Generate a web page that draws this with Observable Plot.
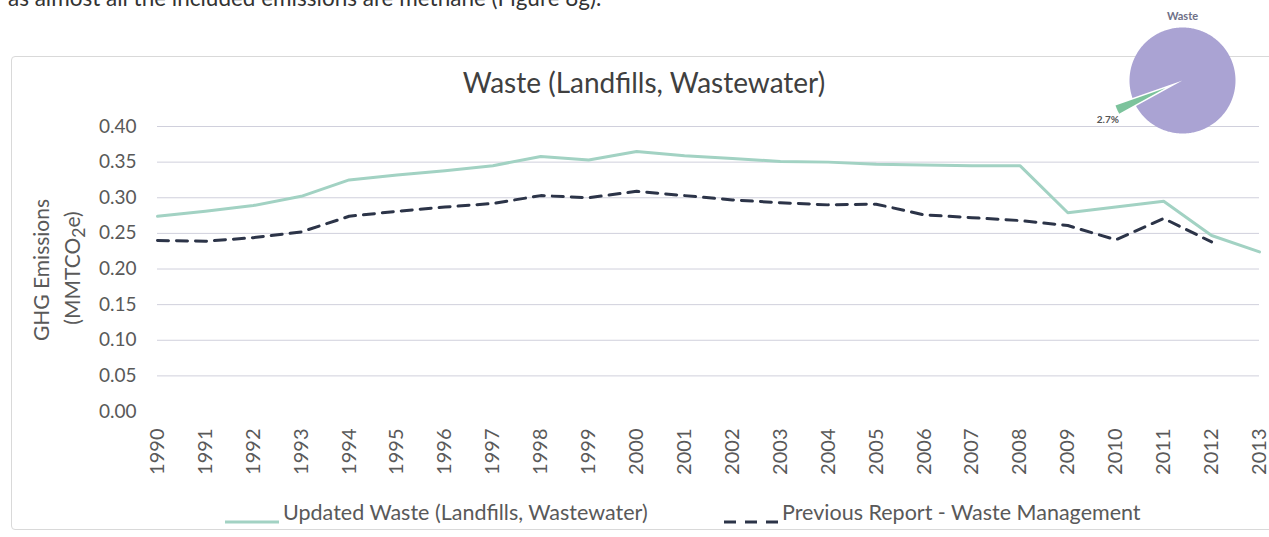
<!DOCTYPE html>
<html>
<head>
<meta charset="utf-8">
<script src="https://cdn.jsdelivr.net/npm/d3@7"></script>
<script src="https://cdn.jsdelivr.net/npm/@observablehq/plot@0.6"></script>
<style>
html,body{margin:0;padding:0;background:#fff;}
#wrap{position:relative;width:1269px;height:537px;overflow:hidden;background:#fff;font-family:Lato,sans-serif;}
.abs{position:absolute;white-space:nowrap;line-height:1;}
svg.plot-svg{position:absolute;}
</style>
</head>
<body>
<div id="wrap"></div>
<script>
// ---- data ----
const years = [1990,1991,1992,1993,1994,1995,1996,1997,1998,1999,2000,2001,2002,2003,2004,2005,2006,2007,2008,2009,2010,2011,2012,2013];
const updatedWaste = [0.274,0.281,0.289,0.302,0.325,0.332,0.338,0.345,0.358,0.353,0.365,0.359,0.355,0.351,0.350,0.347,0.346,0.345,0.345,0.279,0.287,0.295,0.247,0.224];
const previousReport = [0.240,0.239,0.244,0.252,0.274,0.281,0.287,0.292,0.303,0.300,0.309,0.303,0.297,0.293,0.290,0.291,0.276,0.272,0.268,0.261,0.241,0.271,0.238,null];
const yTicks = [0.00,0.05,0.10,0.15,0.20,0.25,0.30,0.35,0.40];
const seriesNames = ["Updated Waste (Landfills, Wastewater)", "Previous Report - Waste Management"];
const titleText = "Waste (Landfills, Wastewater)";
const yTitle1 = "GHG Emissions";
const yTitle2 = "(MMTCO<sub>2</sub>e)";
const introText = "as almost all the included emissions are methane (Figure 8g).";
const pieTitle = "Waste";
const pieLabels = ["Other", "Waste"];
const pieShares = [97.3, 2.7];

// ---- colors ----
const cUpdated = "#a2d2c3";
const cPrevious = "#2c3448";
const cPieMain = "#aaa3d3";
const cPieWaste = "#7cc39c";

const wrap = document.getElementById("wrap");
function addDiv(html, css) {
  const d = document.createElement("div");
  d.className = "abs";
  d.innerHTML = html;
  Object.assign(d.style, css);
  wrap.appendChild(d);
  return d;
}

// intro text (cut at top of the page, as in the source)
addDiv(introText, {left: "8px", top: "-13px", fontSize: "22.5px", color: "#333"});

// chart frame
addDiv("", {left: "11px", top: "56px", width: "1300px", height: "474px", border: "1px solid #d9d9d9", borderRadius: "4px", boxSizing: "border-box"});

// ---- main plot ----
const rowsU = years.map((y, i) => ({year: y, value: updatedWaste[i]})).filter(d => d.value != null);
const rowsP = years.map((y, i) => ({year: y, value: previousReport[i]})).filter(d => d.value != null);

const chart = Plot.plot({
  width: 1269,
  height: 537,
  marginLeft: 157,
  marginRight: 10,
  marginTop: 126,
  marginBottom: 126,
  style: {background: "transparent", fontFamily: "Lato, sans-serif", overflow: "visible"},
  x: {domain: [1990, 2013]},
  y: {domain: [0, 0.40]},
  marks: [
    Plot.ruleY(yTicks.filter(d => d > 0), {stroke: "#d0d0dc", strokeWidth: 1}),
    Plot.axisY(yTicks, {tickSize: 0, tickPadding: 21, tickFormat: d => d.toFixed(2), fontSize: 19, color: "#595959", label: null}),
    Plot.axisX(years, {tickSize: 0, tickRotate: -90, tickPadding: 17, tickFormat: d => String(d), fontSize: 20, color: "#595959", label: null}),
    Plot.line(rowsU, {x: "year", y: "value", stroke: cUpdated, strokeWidth: 3}),
    Plot.line(rowsP, {x: "year", y: "value", stroke: cPrevious, strokeWidth: 3, strokeDasharray: "11,8"})
  ]
});
chart.classList.add("plot-svg");
chart.style.left = "0px";
chart.style.top = "0px";
wrap.appendChild(chart);

// title
addDiv(titleText, {left: "644px", top: "68px", transform: "translateX(-50%)", fontSize: "28px", color: "#404040"});

// y axis title
addDiv(yTitle1, {left: "40px", top: "270px", transform: "translate(-50%,-50%) rotate(-90deg)", fontSize: "21px", color: "#595959"});
addDiv(yTitle2, {left: "74px", top: "268px", transform: "translate(-50%,-50%) rotate(-90deg)", fontSize: "21px", color: "#595959"});

// legend
addDiv(`<svg width="54" height="6"><line x1="0" x2="54" y1="3" y2="3" stroke="${cUpdated}" stroke-width="3"/></svg>`, {left: "225px", top: "511px"});
addDiv(seriesNames[0], {left: "283px", top: "502px", fontSize: "21.5px", color: "#595959"});
addDiv(`<svg width="54" height="6"><line x1="0" x2="54" y1="3" y2="3" stroke="${cPrevious}" stroke-width="3" stroke-dasharray="12,9"/></svg>`, {left: "724px", top: "511px"});
addDiv(seriesNames[1], {left: "782px", top: "502px", fontSize: "21.5px", color: "#595959"});

// ---- inset pie ----
const R = 53; // px per unit radius
const pw = 180, ph = 150, cx = 100, cy = 70;
const total = d3.sum(pieShares);
const startDeg = 246 - (total - pieShares[pieShares.length - 1] / 2) / total * 360;
let acc = 0;
const slicePts = [];
const labelPts = [];
pieShares.forEach((s, i) => {
  const a0 = startDeg + acc / total * 360;
  const a1 = startDeg + (acc + s) / total * 360;
  acc += s;
  const mid = (a0 + a1) / 2 * Math.PI / 180;
  const explode = pieLabels[i] === "Waste" ? 0.35 : 0;
  const ox = explode * Math.sin(mid), oy = explode * Math.cos(mid);
  slicePts.push({slice: pieLabels[i], x: ox, y: oy});
  const n = Math.max(2, Math.ceil(a1 - a0));
  for (let k = 0; k <= n; k++) {
    const a = (a0 + (a1 - a0) * k / n) * Math.PI / 180;
    slicePts.push({slice: pieLabels[i], x: ox + Math.sin(a), y: oy + Math.cos(a)});
  }
  if (pieLabels[i] === "Waste") {
    labelPts.push({x: 1.5 * Math.sin(mid), y: 1.5 * Math.cos(mid), text: s.toFixed(1) + "%"});
  }
});

const pie = Plot.plot({
  width: pw, height: ph,
  margin: 0,
  style: {background: "transparent", fontFamily: "Lato, sans-serif", overflow: "visible"},
  x: {domain: [-cx / R, (pw - cx) / R], axis: null},
  y: {domain: [-(ph - cy) / R, cy / R], axis: null},
  color: {domain: pieLabels, range: [cPieMain, cPieWaste]},
  marks: [
    Plot.line(slicePts, {x: "x", y: "y", z: "slice", fill: "slice", stroke: "none", curve: "linear-closed"}),
    Plot.text(labelPts, {x: "x", y: "y", text: "text", dx: -2, dy: 7, fontSize: 10, fontWeight: "bold", fill: "#555"}),
    Plot.text([pieTitle], {x: 0, y: 1.21, text: d => d, fontSize: 11, fontWeight: "bold", fill: "#6e7087"})
  ]
});
pie.classList.add("plot-svg");
pie.style.left = (1182 - cx) + "px";
pie.style.top = (80 - cy) + "px";
wrap.appendChild(pie);
</script>
</body>
</html>
